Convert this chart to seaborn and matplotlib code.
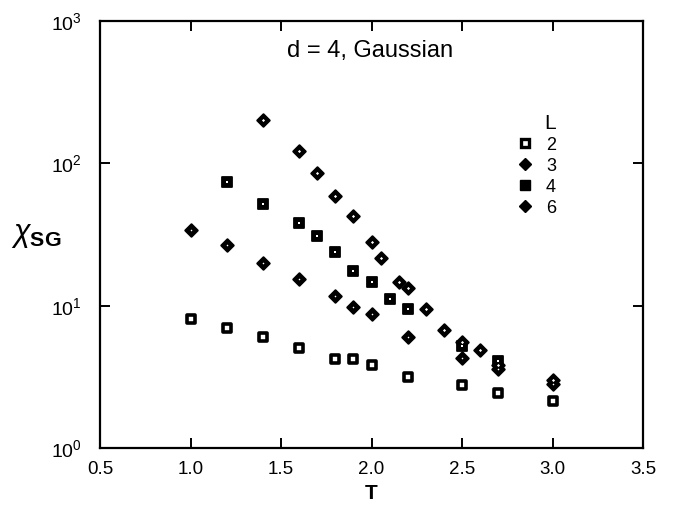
import math
import matplotlib
matplotlib.use("Agg")
import matplotlib.pyplot as plt
import seaborn as sns
import pandas as pd
from matplotlib.lines import Line2D
from matplotlib.ticker import FixedLocator, FuncFormatter, NullLocator

# ---- data ----
T_L2 = [1.0, 1.2, 1.4, 1.6, 1.8, 1.9, 2.0, 2.2, 2.5, 2.7, 3.0]
chi_L2 = [8.1, 7.0, 6.0, 5.05, 4.2, 4.2, 3.85, 3.15, 2.75, 2.45, 2.15]

T_L3 = [1.0, 1.2, 1.4, 1.6, 1.8, 1.9, 2.0, 2.2, 2.5, 2.7, 3.0]
chi_L3 = [34, 26.7, 19.8, 15.5, 11.7, 9.8, 8.7, 6.0, 4.3, 3.6, 2.8]

T_L4 = [1.2, 1.4, 1.6, 1.7, 1.8, 1.9, 2.0, 2.1, 2.2, 2.5, 2.7]
chi_L4 = [74, 52, 38, 31, 23.8, 17.6, 14.7, 11.1, 9.5, 5.2, 4.1]

T_L6 = [1.4, 1.6, 1.7, 1.8, 1.9, 2.0, 2.05, 2.15, 2.2, 2.3, 2.4, 2.5, 2.6, 2.7, 3.0]
chi_L6 = [200, 123, 86, 59, 42.6, 28, 21.7, 14.7, 13.3, 9.5, 6.8, 5.6, 4.9, 3.85, 3.0]

L_labels = ["2", "3", "4", "6"]
x_ticks = [0.5, 1.0, 1.5, 2.0, 2.5, 3.0, 3.5]
y_ticks = [1, 10, 100, 1000]
title_text = "d = 4, Gaussian"

# ---- style ----
sns.set_style("ticks")
plt.rcParams["font.family"] = ["Liberation Sans", "DejaVu Sans"]
plt.rcParams["text.color"] = "black"
plt.rcParams["axes.labelcolor"] = "black"
plt.rcParams["xtick.color"] = "black"
plt.rcParams["ytick.color"] = "black"
plt.rcParams["mathtext.fontset"] = "custom"
plt.rcParams["mathtext.rm"] = "Liberation Sans"
plt.rcParams["mathtext.it"] = "Liberation Sans:italic"
plt.rcParams["mathtext.bf"] = "Liberation Sans:bold"

fig = plt.figure(figsize=(6.73, 5.07), dpi=100)
ax = fig.add_axes([100 / 673, 1 - 448 / 507, 543 / 673, 427 / 507])

series = [
    (T_L2, chi_L2, "s", "white", 2.6, 26, None),
    (T_L3, chi_L3, "D", "black", 1.5, 40, 1.0),
    (T_L4, chi_L4, "s", "black", 1.3, 50, 2.0),
    (T_L6, chi_L6, "D", "black", 1.5, 40, 2.5),
]

for (tx, cy, mk, fc, lw, s, dot) in series:
    df = pd.DataFrame({"T": tx, "chi": cy})
    sns.scatterplot(data=df, x="T", y="chi", marker=mk, s=s, color=fc,
                    edgecolor="black", linewidth=lw, ax=ax, zorder=3,
                    legend=False)
    if dot:
        sns.scatterplot(data=df, x="T", y="chi", marker=mk,
                        s=dot, color="white", linewidth=0, ax=ax, zorder=4,
                        legend=False)

ax.set_yscale("log")
ax.set_xlim(0.5, 3.5)
ax.set_ylim(1, 1000)

ax.xaxis.set_major_locator(FixedLocator(x_ticks))
ax.xaxis.set_major_formatter(FuncFormatter(lambda v, p: f"{v:.1f}"))
ax.yaxis.set_major_locator(FixedLocator(y_ticks))
ax.yaxis.set_minor_locator(NullLocator())
ax.yaxis.set_major_formatter(FuncFormatter(
    lambda v, p: r"$\mathregular{10^{%d}}$" % round(math.log10(v))))

ax.tick_params(axis="both", which="major", direction="in", length=7, width=1.4,
               top=True, right=True, colors="black")
ax.tick_params(axis="x", labelsize=13.5, pad=9)
ax.tick_params(axis="y", labelsize=14, pad=13)
for sp in ax.spines.values():
    sp.set_linewidth(1.6)
    sp.set_color("black")

ax.set_xlabel("T", fontsize=15, fontweight="bold", labelpad=5)
ax.set_ylabel(r"$\chi_{\mathbf{SG}}$", fontsize=22, rotation=0,
              ha="center", va="center")
ax.yaxis.set_label_coords(-0.118, 0.50)

ax.text(0.497, 0.93, title_text, transform=ax.transAxes, ha="center",
        va="center", fontsize=17)

handles = [
    Line2D([], [], linestyle="none", marker="s", markersize=5.5,
           markerfacecolor="white", markeredgecolor="black", markeredgewidth=2.4),
    Line2D([], [], linestyle="none", marker="D", markersize=6.5,
           markerfacecolor="black", markeredgecolor="black"),
    Line2D([], [], linestyle="none", marker="s", markersize=7,
           markerfacecolor="black", markeredgecolor="black"),
    Line2D([], [], linestyle="none", marker="D", markersize=6.5,
           markerfacecolor="black", markeredgecolor="black"),
]
leg = ax.legend(handles, L_labels, title="L", frameon=False, fontsize=13,
                title_fontsize=15, loc="upper left",
                bbox_to_anchor=(0.75, 0.80), handletextpad=0.55,
                labelspacing=0.22, handlelength=1.2, alignment="right",
                borderaxespad=0)

fig.savefig("out.png", dpi=100)
